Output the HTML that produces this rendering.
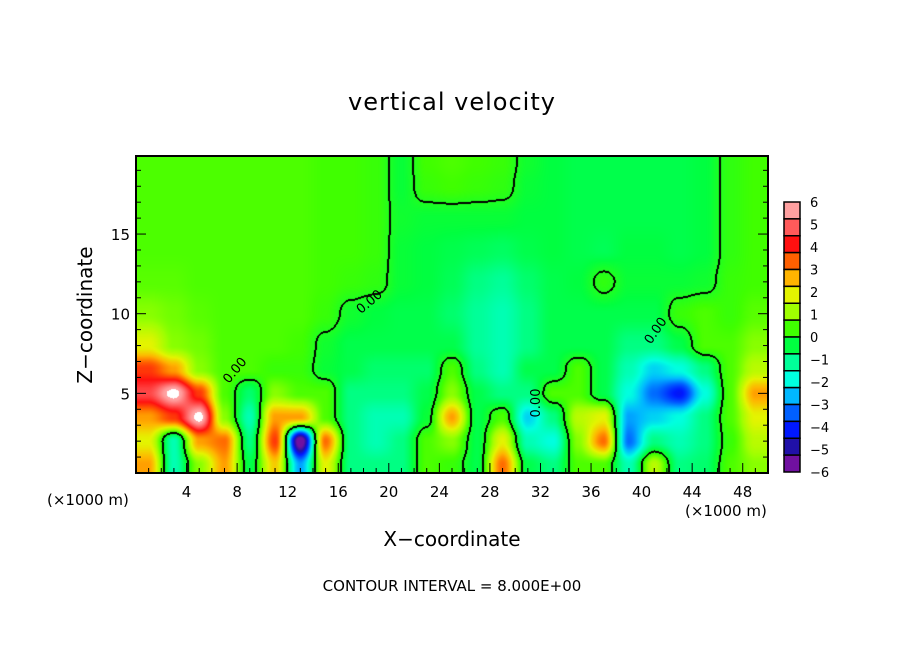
<!DOCTYPE html>
<html><head><meta charset="utf-8">
<style>
body{margin:0;background:#fff;width:904px;height:654px;overflow:hidden;position:relative;font-family:"DejaVu Sans","Liberation Sans",sans-serif}
.t{position:absolute;white-space:nowrap;color:#000}
</style></head>
<body>
<div class="t" style="left:0;width:904px;text-align:center;top:88px;font-size:24px;letter-spacing:1px">vertical velocity</div>
<canvas id="hm" width="632" height="317" style="position:absolute;left:136px;top:156px"></canvas>
<svg id="ax" width="904" height="654" style="position:absolute;left:0;top:0"></svg>
<div class="t" style="left:85px;top:315px;font-size:20px;transform:translate(-50%,-50%) rotate(-90deg)">Z−coordinate</div>
<div class="t" style="left:0;width:904px;text-align:center;top:527px;font-size:20px">X−coordinate</div>
<div class="t" style="left:47px;top:491px;font-size:15px">(×1000 m)</div>
<div class="t" style="left:685px;top:502px;font-size:15px">(×1000 m)</div>
<div class="t" style="left:0;width:904px;text-align:center;top:577px;font-size:15px">CONTOUR INTERVAL = 8.000E+00</div>
<script>
const xCenters=[1,3,5,7,9,11,13,15,17,19,21,23,25,27,29,31,33,35,37,39,41,43,45,47,49];
const zCenters=[0.5,2,3.5,5,6.5,8,10,12,14,16,18,19.5];
const wGrid=[
[3,-1.5,1,3,-0.5,2.5,-3,2,-1,-1,-1,0.5,0.3,-0.5,3.5,-0.5,-1,0.5,0.5,-1.5,1.5,-1,-0.8,0.5,1],
[2,-1.5,3,3.5,-1,4,-6.5,3.5,-1,-1.5,-1,0.5,1,-0.5,2,-1.5,-2,1,3.5,-3.5,-1,-1.5,-1,0.3,1.5],
[3,4,6.5,1,-1.5,3,3,0.5,-1,-1.5,-1.5,-0.3,3,-0.5,0.5,-2.5,-1,1.5,2,-3,-2.5,-2,-1,0.5,2],
[5,6.5,4,0.5,-0.8,1,0.5,0.5,-1,-1,-1,-0.5,1,-0.5,-1,-1,0.5,0.5,-0.5,-2,-3.5,-4.5,-2,0.5,3],
[4,3,1,0.5,0.5,0.3,0.3,-0.3,-0.5,-0.8,-0.8,-0.8,0.5,-1,-1.5,-0.5,-0.5,0.5,-0.5,-1.5,-2.5,-2,-1,0.5,1.5],
[2,1,0.8,0.5,0.5,0.5,0.4,-0.2,-0.5,-0.5,-0.5,-0.5,-0.5,-1.2,-1.5,-1,-0.5,-0.5,-0.5,-1,-1,-0.5,0.5,0.5,1],
[1,0.8,0.6,0.5,0.5,0.5,0.5,0.3,-0.2,-0.4,-0.5,-0.5,-0.8,-1.2,-1.5,-1,-0.5,-0.5,-0.5,-0.5,-0.5,0.3,0.5,0.3,0.6],
[0.6,0.6,0.5,0.5,0.5,0.5,0.5,0.4,0.3,0.2,-0.3,-0.4,-0.6,-1,-1.2,-0.8,-0.5,-0.4,0.2,-0.3,-0.3,-0.3,-0.2,0.3,0.4],
[0.5,0.5,0.5,0.5,0.5,0.5,0.5,0.4,0.4,0.3,-0.3,-0.4,-0.5,-0.6,-0.7,-0.5,-0.4,-0.5,-0.6,-0.4,-0.4,-0.5,-0.4,0.2,0.4],
[0.5,0.5,0.5,0.5,0.5,0.5,0.5,0.4,0.4,0.3,-0.2,-0.3,-0.3,-0.3,-0.3,-0.4,-0.4,-0.5,-0.5,-0.5,-0.5,-0.5,-0.4,0.2,0.4],
[0.5,0.5,0.5,0.5,0.5,0.5,0.5,0.4,0.4,0.3,-0.3,0.3,0.4,0.3,0.2,-0.3,-0.4,-0.5,-0.5,-0.5,-0.5,-0.5,-0.4,0.2,0.4],
[0.5,0.5,0.5,0.5,0.5,0.5,0.5,0.4,0.4,0.3,-0.3,0.4,0.5,0.4,0.3,-0.2,-0.4,-0.5,-0.5,-0.5,-0.5,-0.5,-0.4,0.2,0.4]];
const xTicks=[4,8,12,16,20,24,28,32,36,40,44,48];
const zTicks=[5,10,15];
const cbLabels=[6,5,4,3,2,1,0,-1,-2,-3,-4,-5,-6];
const cbColors=["#ffa0a0","#ff5a5a","#ff1010","#ff6000","#ffb400","#e4f400","#a0ff00","#40ff00","#00ff40","#00ff99","#00ffe0","#00b8ff","#0060ff","#0018ff","#2010a8","#7010a0"];
const X0=136,X1=768,Y0=473,Y1=156,XMAX=50,ZMAX=19.9;
const sx=v=>X0+(v/XMAX)*(X1-X0), sz=v=>Y0-(v/ZMAX)*(Y0-Y1);
function hex(c){return [parseInt(c.substr(1,2),16),parseInt(c.substr(3,2),16),parseInt(c.substr(5,2),16)];}
const stops=cbColors.map((c,i)=>({v:6-i*12/15,c:hex(c)}));
function col(v){
 if(v>6.2) return [255,255,255];
 if(v>=stops[0].v) return stops[0].c;
 for(let i=0;i<stops.length-1;i++){const a=stops[i],b=stops[i+1];
  if(v<=a.v&&v>=b.v){const t=(a.v-v)/(a.v-b.v);return a.c.map((x,k)=>Math.round(x+(b.c[k]-x)*t));}}
 return stops[stops.length-1].c;}
function idx(arr,v){if(v<=arr[0])return[0,0];for(let i=0;i<arr.length-1;i++)if(v<=arr[i+1])return[i,(v-arr[i])/(arr[i+1]-arr[i])];return[arr.length-2,1];}
function sm(t){return t*t*(3-2*t);}
function val(x,z){const[i,tx]=idx(xCenters,x),[j,tz]=idx(zCenters,z);const a=sm(tx),b=sm(tz);
 return (wGrid[j][i]*(1-a)+wGrid[j][i+1]*a)*(1-b)+(wGrid[j+1][i]*(1-a)+wGrid[j+1][i+1]*a)*b;}
const cv=document.getElementById('hm'),ctx=cv.getContext('2d'),W=632,H=317;
const img=ctx.createImageData(W,H),V=new Float32Array(W*H);
for(let py=0;py<H;py++)for(let px=0;px<W;px++){V[py*W+px]=val((px+0.5)/W*XMAX,(H-py-0.5)/H*ZMAX);}
for(let py=0;py<H;py++)for(let px=0;px<W;px++){const v=V[py*W+px];let c=col(v);
 const s=v>0;
 if((px<W-1&&(V[py*W+px+1]>0)!==s)||(py<H-1&&(V[(py+1)*W+px]>0)!==s)||(px>0&&(V[py*W+px-1]>0)!==s)||(py>0&&(V[(py-1)*W+px]>0)!==s))c=[0,0,0];
 const o=(py*W+px)*4;img.data[o]=c[0];img.data[o+1]=c[1];img.data[o+2]=c[2];img.data[o+3]=255;}
ctx.putImageData(img,0,0);
const NS="http://www.w3.org/2000/svg",svg=document.getElementById('ax');
function el(t,a,p){const e=document.createElementNS(NS,t);for(const k in a)e.setAttribute(k,a[k]);(p||svg).appendChild(e);return e;}
let fr=el('rect',{x:X0,y:Y1,width:X1-X0,height:Y0-Y1,fill:'none',stroke:'#000','stroke-width':2});

for(let x=1;x<XMAX;x++){const m=x%4===0;el('line',{x1:sx(x),x2:sx(x),y1:Y0,y2:Y0-(m?10:5),stroke:'#000'});}
xTicks.forEach(x=>{const t=el('text',{x:sx(x),y:Y0+24,'text-anchor':'middle','font-size':15,'font-family':'DejaVu Sans, sans-serif'});t.textContent=x;
 });
for(let z=1;z<ZMAX;z++){const m=z%5===0;el('line',{x1:X0,x2:X0+(m?10:5),y1:sz(z),y2:sz(z),stroke:'#000'});el('line',{x1:X1,x2:X1-(m?10:5),y1:sz(z),y2:sz(z),stroke:'#000'});}
zTicks.forEach(z=>{const t=el('text',{x:X0-6,y:sz(z)+6,'text-anchor':'end','font-size':15,'font-family':'DejaVu Sans, sans-serif'});t.textContent=z;
 });
const cbT=202,cbB=472,bh=(cbB-cbT)/cbColors.length;
const cbg=el('g',{});
cbColors.forEach((c,i)=>el('rect',{x:784,y:cbT+i*bh,width:16,height:bh,fill:c,stroke:'#000','stroke-width':1.5},cbg));
cbLabels.forEach((v,i)=>{const t=el('text',{x:810,y:cbT+i*(cbB-cbT)/12+5,'font-size':13,'font-family':'DejaVu Sans, sans-serif'},cbg);t.textContent=(v<0?'−'+(-v):v);
 });
[[372,305,-40],[659,333,-55],[540,403,-90],[238,373,-50]].forEach(p=>{const t=el('text',{x:p[0],y:p[1],'font-size':13,'text-anchor':'middle','font-family':'DejaVu Sans, sans-serif',transform:`rotate(${p[2]} ${p[0]} ${p[1]})`});t.textContent='0.00';
 });
</script>
</body></html>
